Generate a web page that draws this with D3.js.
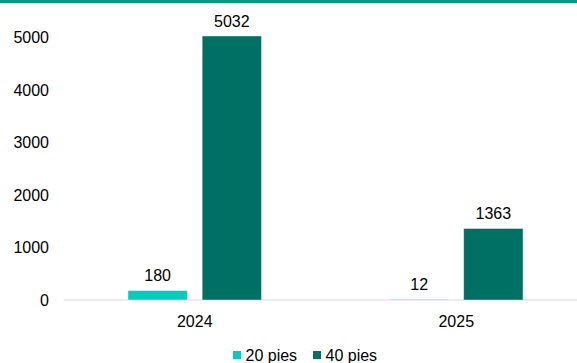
<!DOCTYPE html>
<html>
<head>
<meta charset="utf-8">
<script src="https://cdn.jsdelivr.net/npm/d3@7"></script>
<style>
  html, body { margin: 0; padding: 0; background: #fff; }
  svg { display: block; font-family: "Liberation Sans", Arial, sans-serif; }
</style>
</head>
<body>
<svg id="chart" width="577" height="363"></svg>
<script>
// Years on the x axis and one series per pie size
const years = ["2024", "2025"];
const seriesNames = ["20 pies", "40 pies"];
const pies20 = [180, 12];
const pies40 = [5032, 1363];
const yTicks = [0, 1000, 2000, 3000, 4000, 5000];
const colors = ["#00CDBD", "#007064"];

(function draw() {
  const series = [pies20, pies40];
  const rows = years.map((yr, i) => ({ year: yr, values: series.map((s, k) => ({ name: seriesNames[k], value: s[i] })) }));

  const svg = d3.select("#chart");
  const W = 577;
  const fontSize = 16;
  const plotLeft = 64, plotRight = 587, plotTop = 37.7, plotBottom = 300;

  // Accent line across the top
  svg.append("rect").attr("x", 0).attr("y", 0).attr("width", W).attr("height", 3).attr("fill", "#009B7D");

  const x = d3.scaleBand().domain(years).range([plotLeft, plotRight]).paddingInner(0).paddingOuter(0);
  const y = d3.scaleLinear().domain([0, 5000]).range([plotBottom, plotTop]);
  const inner = d3.scaleBand().domain(seriesNames).range([64, x.bandwidth() - 64]).paddingInner(0.2);

  // Y axis labels (no line, no tick marks)
  const yAxis = svg.append("g").attr("transform", `translate(${plotLeft},0)`)
    .call(d3.axisLeft(y).tickValues(yTicks).tickSize(0).tickPadding(15).tickFormat(d3.format("d")));
  yAxis.select(".domain").remove();
  yAxis.selectAll("text").attr("font-size", fontSize).attr("fill", "#000").attr("font-family", "Liberation Sans, Arial, sans-serif");

  // Baseline
  svg.append("line").attr("x1", plotLeft).attr("x2", W).attr("y1", plotBottom).attr("y2", plotBottom)
    .attr("stroke", "#d9d9d9").attr("stroke-width", 1);

  // X axis labels
  const xAxis = svg.append("g").attr("transform", `translate(0,${plotBottom})`)
    .call(d3.axisBottom(x).tickSize(0).tickPadding(15.3));
  xAxis.select(".domain").remove();
  xAxis.selectAll("text").attr("font-size", fontSize).attr("fill", "#000").attr("font-family", "Liberation Sans, Arial, sans-serif");

  // Bars and value labels
  const groups = svg.selectAll("g.year").data(rows).join("g").attr("class", "year")
    .attr("transform", d => `translate(${x(d.year)},0)`);

  groups.selectAll("rect").data(d => d.values).join("rect")
    .attr("x", d => inner(d.name))
    .attr("width", inner.bandwidth())
    .attr("y", d => y(d.value))
    .attr("height", d => plotBottom - y(d.value))
    .attr("fill", (d, i) => colors[i])
    .attr("stroke", "#ffffff").attr("stroke-opacity", 0.5).attr("stroke-width", 0.8);

  groups.selectAll("text.val").data(d => d.values).join("text").attr("class", "val")
    .attr("x", d => inner(d.name) + inner.bandwidth() / 2)
    .attr("y", d => y(d.value) - 9.4)
    .attr("text-anchor", "middle")
    .attr("font-size", fontSize).attr("fill", "#000")
    .text(d => d.value);

  // Legend
  const legendX = [233, 313];
  const legend = svg.selectAll("g.legend").data(seriesNames).join("g").attr("class", "legend")
    .attr("transform", (d, i) => `translate(${legendX[i]},351)`);
  legend.append("rect").attr("width", 8).attr("height", 8).attr("fill", (d, i) => colors[i]);
  legend.append("text").attr("x", 12.5).attr("y", 9.6).attr("font-size", fontSize).attr("fill", "#000").text(d => d);
})();
</script>
</body>
</html>
